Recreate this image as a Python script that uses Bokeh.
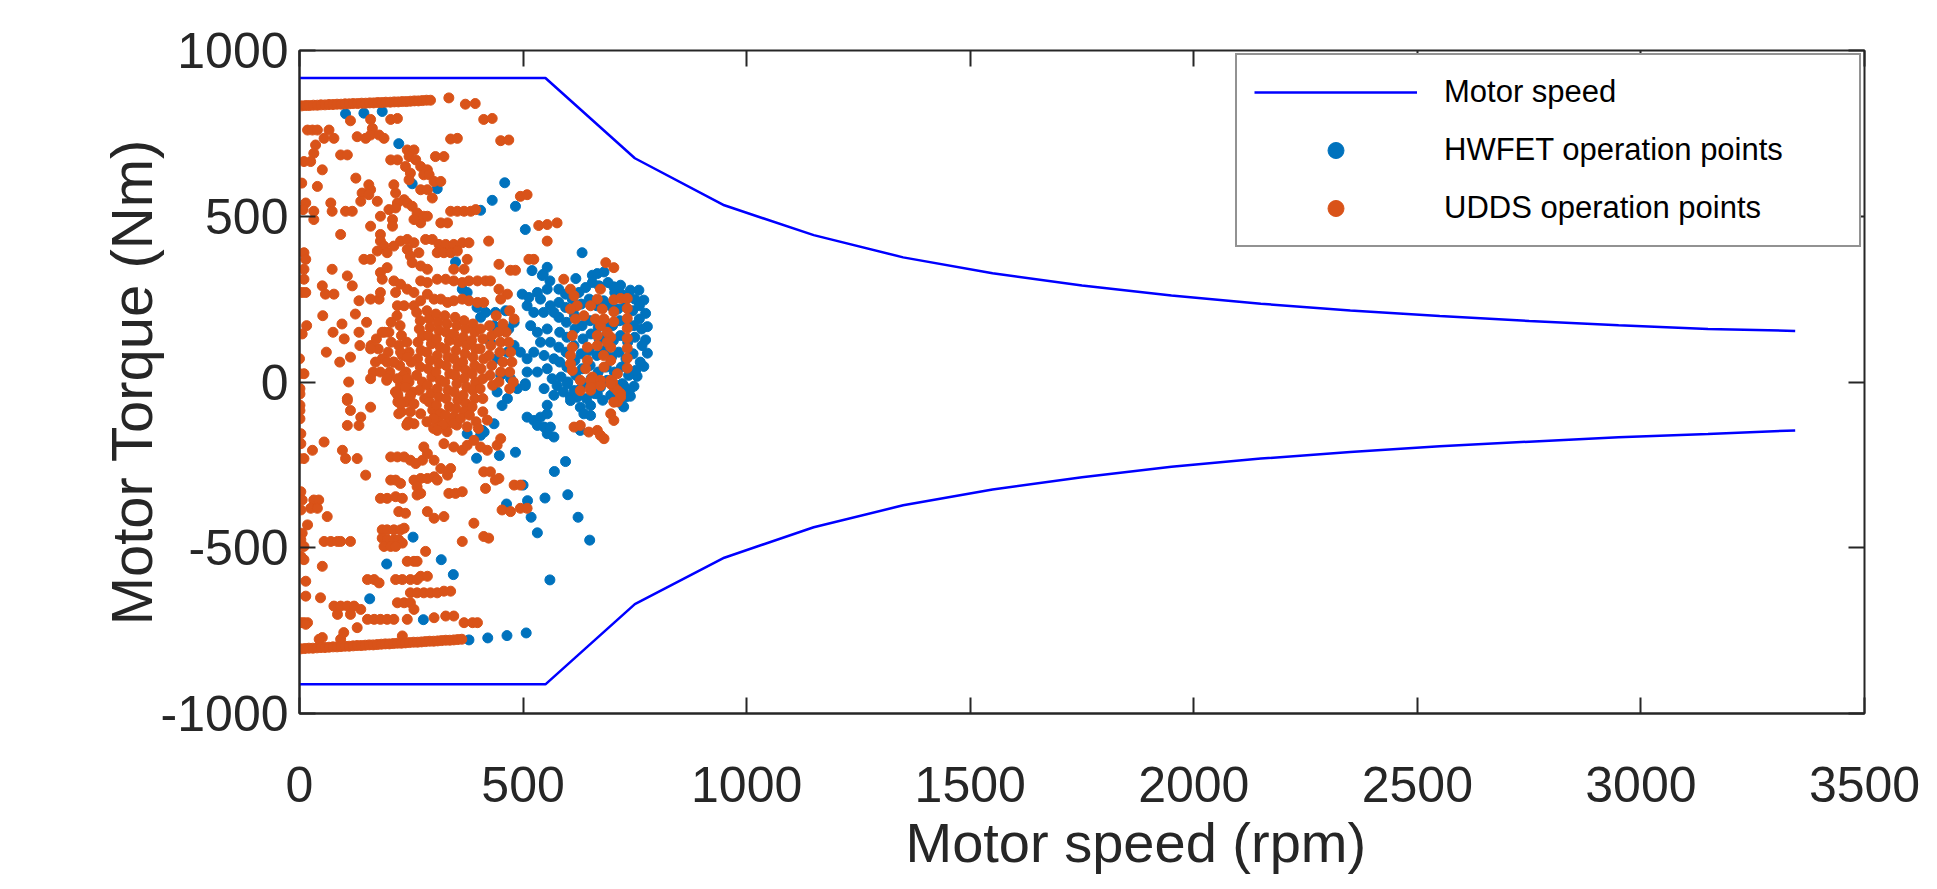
from bokeh.plotting import figure
from bokeh.models import Range1d, LinearAxis, FixedTicker, Legend, LegendItem, Title
from bokeh.embed import file_html
from bokeh.resources import INLINE

# ---------------- data ----------------
x_ticks = [0, 500, 1000, 1500, 2000, 2500, 3000, 3500]
y_ticks = [-1000, -500, 0, 500, 1000]
y_tick_labels = {-1000: "-1000", -500: "-500", 0: "0", 500: "500", 1000: "1000"}

envelope_speed = [0, 550, 750, 950, 1150, 1350, 1550, 1750, 1950, 2150, 2350, 2550, 2750, 2950, 3150, 3345]
envelope_torque_upper = [917, 917, 675, 533, 443, 376, 328, 291, 261, 236, 216, 199, 184, 171, 160, 154]
envelope_torque_lower = [-912, -912, -670, -530, -438, -372, -324, -287, -256, -231, -211, -194, -180, -167, -157, -146]

hwfet_points = [
    (103, 809), (144, 811), (185, 816), (222, 719), (252, 598), (308, 583), (405, 518), (431, 548),
    (459, 601), (483, 530), (505, 460), (632, 390), (349, 362), (520, 336), (543, 321), (554, 346),
    (545, 325), (560, 305),
    (364, 280), (375, 270), (397, 225), (416, 210), (405, 195), (435, 170), (427, 120), (442, 70),
    (450, 20), (465, -50), (442, -30),
    (438, 210), (461, 215), (480, 180), (468, 160), (442, 160), (480, 110), (465, 90), (494, 90),
    (509, 70), (472, 10), (487, -20), (509, 30), (505, -5),
    (498, 265), (513, 255), (532, 270), (539, 250), (554, 280), (561, 230), (509, 230), (524, 210),
    (546, 210), (569, 210), (517, 170), (532, 150), (554, 160), (539, 120), (561, 120), (524, 90),
    (547, 80), (569, 70), (554, 40), (532, 30), (565, 10), (547, -20), (569, -40), (554, -70),
    (618, 312), (655, 322), (666, 327), (681, 332), (703, 287), (718, 292), (740, 277), (759, 277),
    (770, 247), (774, 207), (778, 167), (774, 127), (778, 87), (770, 47), (755, 17), (748, -13),
    (740, -43), (725, -75),
    (580, 280), (595, 265), (610, 250), (625, 270), (640, 285), (655, 300), (670, 290), (690, 300),
    (705, 270), (720, 265), (735, 255), (750, 250), (760, 230),
    (580, 240), (595, 225), (612, 215), (630, 235), (648, 250), (665, 230), (680, 245), (695, 230),
    (712, 220), (728, 228), (745, 215), (760, 190),
    (580, 195), (597, 180), (615, 200), (632, 170), (650, 185), (668, 165), (684, 180), (700, 170),
    (716, 185), (732, 180), (748, 170), (765, 160),
    (582, 150), (598, 135), (616, 160), (634, 130), (652, 145), (670, 130), (686, 140), (702, 125),
    (718, 140), (734, 120), (750, 135), (766, 110),
    (580, 105), (596, 90), (614, 110), (630, 85), (648, 95), (665, 80), (682, 95), (698, 75),
    (714, 90), (730, 70), (746, 85), (762, 60),
    (582, 60), (598, 45), (616, 65), (632, 40), (650, 50), (668, 30), (686, 45), (704, 30),
    (720, 45), (736, 20), (752, 35),
    (585, 15), (600, 0), (618, 20), (635, -5), (652, 10), (670, -10), (688, 5), (706, -20),
    (722, -5), (738, -25),
    (590, -30), (606, -45), (624, -25), (642, -50), (660, -35), (678, -55), (696, -40), (714, -60),
    (730, -45),
    (509, -106), (524, -116), (539, -106), (554, -96), (532, -131), (547, -136), (561, -136),
    (569, -166), (554, -156), (576, -11), (599, -6), (614, -26), (621, -46), (628, -76), (636, -96),
    (651, -71), (666, -36), (673, -16), (703, -6), (725, -11), (606, -56), (628, -146), (651, -101),
    (435, -126), (413, -151), (405, -161), (453, -71), (505, -11), (375, -156), (409, -146),
    (379, -778), (421, -772), (464, -765), (507, -757), (560, -597), (649, -477), (623, -408),
    (600, -340), (549, -350), (532, -455), (518, -408), (510, -358), (500, -311), (463, -368),
    (483, -212), (447, -222), (396, -230), (570, -270), (595, -240), (344, -581), (317, -536),
    (254, -468), (195, -549), (157, -654), (277, -717),
]

udds_points = [
    # upper streak
    (5, 833), (14, 834), (22, 834), (31, 835), (40, 835), (48, 836), (57, 836), (66, 837), (75, 837),
    (84, 838), (93, 838), (102, 839), (111, 839), (120, 840), (130, 840), (139, 841), (148, 841),
    (157, 842), (166, 842), (175, 843), (184, 843), (193, 844), (203, 844), (212, 845), (221, 845),
    (230, 846), (239, 846), (248, 847), (257, 848), (266, 848), (275, 849), (284, 850), (293, 850),
    (334, 857), (371, 838), (393, 840), (412, 792), (431, 795), (450, 728), (468, 730), (338, 733),
    (353, 735),
    # upper scatter
    (114, 788), (159, 792), (163, 765), (204, 792), (219, 795),
    (18, 760), (29, 760), (40, 760), (66, 760), (77, 735), (55, 735),
    (129, 740), (148, 735), (159, 745), (178, 745), (189, 735),
    (36, 715), (32, 690), (10, 665), (25, 665), (51, 640), (40, 590),
    (92, 685), (107, 685),
    (126, 615), (155, 595), (140, 570), (137, 545), (159, 580), (174, 545), (155, 565),
    (204, 670), (219, 670),
    (241, 700), (256, 700), (245, 680), (260, 670), (271, 650), (286, 640), (278, 625), (290, 625),
    (237, 650), (248, 630), (245, 610),
    (304, 680), (323, 680),
    (271, 580), (286, 580), (301, 605), (316, 605), (297, 555),
    (14, 540), (32, 515), (32, 490), (70, 540), (73, 515), (103, 515), (118, 515),
    (211, 595), (215, 570), (219, 540), (234, 550), (241, 540), (252, 530), (263, 510), (271, 480),
    (256, 490), (278, 500), (286, 500),
    (200, 520), (215, 525), (208, 490),
    (181, 500), (159, 470), (181, 445), (208, 470),
    (338, 515), (353, 515), (368, 515), (383, 515), (394, 520),
    (316, 480), (331, 480),
    (92, 445),
    (181, 425), (189, 410), (174, 395), (196, 390), (211, 410), (226, 425), (241, 430), (256, 420),
    (241, 400), (248, 380), (267, 390), (252, 360), (271, 350), (286, 340),
    (282, 430), (297, 430), (312, 415), (327, 415), (345, 415), (364, 420), (379, 420),
    (308, 390), (323, 390), (338, 390), (353, 395),
    (375, 370), (423, 425),
    (535, 472), (554, 475), (576, 480), (554, 425), (494, 560), (509, 565),
    (144, 370), (159, 370),
    (73, 340), (107, 320), (118, 290),
    (51, 290), (58, 265), (77, 265),
    (133, 245), (159, 250), (178, 250),
    (181, 330), (196, 345), (185, 310), (181, 270),
    (211, 305), (226, 295), (241, 280), (256, 270), (215, 270), (219, 230), (234, 230), (256, 230),
    (271, 245), (286, 265), (301, 250), (316, 250), (331, 240), (345, 245), (364, 250), (379, 245),
    (398, 240), (412, 240),
    (271, 305), (286, 300), (308, 310), (327, 310), (345, 305), (364, 300), (379, 305), (398, 305),
    (416, 305), (427, 305), (446, 280), (465, 265), (450, 250),
    (368, 340), (345, 340), (446, 355), (472, 337), (483, 337), (513, 370), (524, 370),
    (470, 215), (480, 190), (455, 175), (440, 200), (462, 150),
    # right cluster
    (591, 310), (606, 280), (614, 260), (621, 230), (606, 220), (617, 190),
    (685, 360), (703, 345), (673, 280), (666, 250), (651, 230), (636, 200), (677, 220), (662, 190),
    (703, 248), (718, 252), (733, 252), (733, 222), (733, 192), (733, 162), (733, 132), (733, 102),
    (733, 72), (733, 42), (703, 212), (703, 182), (696, 135), (696, 105), (696, 65), (711, 25),
    (703, -15), (718, -35), (711, -60),
    (610, 140), (610, 105), (606, 80), (606, 55), (610, 35),
    (644, 105), (644, 65), (640, 40), (655, 15), (662, -5), (651, -25),
    (628, 5), (651, 5), (673, 5), (696, 5),
    (666, 110), (666, 140), (673, 170), (681, 190), (688, 150), (688, 120), (680, 80), (681, 45),
    (700, 0),
    (628, -26), (651, -16), (673, -11), (696, -6), (711, -26), (718, -46), (703, -61), (696, -96),
    (703, -116), (614, -136), (628, -131), (647, -151), (666, -146), (673, -161), (681, -171),
    # dense block
    (262, 210), (270, 185), (268, 160), (275, 140), (265, 120), (272, 95), (264, 70), (270, 45),
    (262, 20), (275, 0), (268, -25), (280, -50),
    (285, 215), (290, 190), (292, 165), (288, 140), (295, 115), (285, 90), (292, 65), (288, 40),
    (296, 15), (286, -10), (294, -35), (290, -60), (298, -85),
    (305, 205), (310, 180), (312, 155), (306, 130), (315, 105), (308, 80), (312, 55), (305, 30),
    (315, 5), (308, -20), (312, -45), (306, -70), (315, -95), (310, -120),
    (325, 200), (330, 175), (328, 150), (335, 125), (326, 100), (332, 75), (328, 50), (336, 25),
    (325, 0), (332, -25), (328, -50), (335, -75), (326, -100), (332, -125), (330, -150),
    (348, 195), (352, 170), (345, 145), (355, 120), (350, 95), (346, 70), (354, 45), (348, 20),
    (352, -5), (346, -30), (354, -55), (350, -80), (345, -105), (352, -130),
    (368, 185), (372, 160), (366, 135), (374, 110), (370, 85), (365, 60), (372, 35), (368, 10),
    (374, -15), (366, -40), (372, -65), (368, -90),
    (388, 175), (392, 150), (385, 125), (394, 100), (388, 75), (392, 50), (386, 25), (394, 0),
    (388, -25), (392, -50), (386, -75),
    (405, 160), (410, 130), (404, 100), (412, 70), (406, 40), (410, 10), (404, -20), (410, -50),
    (425, 170), (430, 140), (428, 110), (424, 80), (430, 50), (426, 20), (432, -10),
    (445, 150), (450, 120), (448, 90), (455, 60), (450, 30), (446, 0),
    (468, 120), (472, 90), (475, 60), (470, 30), (478, 0), (470, -20),
    (240, 120), (245, 90), (250, 60), (238, 30), (245, 0), (252, -30), (240, -60), (248, -90),
    (244, -120),
    (218, 200), (225, 170), (228, 140), (222, 110), (230, 80), (224, 50), (232, 20), (226, -10),
    (220, -40),
    (200, 150), (205, 120), (198, 90), (210, 60), (202, 30), (195, 5), (185, 70), (176, 100),
    (170, 60), (165, 30), (160, 110), (172, 130), (190, 150), (205, 180),
    (114, 75), (110, 0), (107, -50), (133, 150),
    (200, 20), (215, -30), (220, -60), (228, -90), (240, -130),
    (185, 150), (159, 100), (196, 60), (211, 60), (226, 90), (241, 75), (181, 30), (159, 10),
    (196, 10), (219, 10), (241, 10), (215, -30), (234, -60),
    (52, 200), (95, 175), (125, 205), (150, 180), (135, 110), (100, 130), (75, 150), (60, 90),
    (90, 60),
    (300, -110), (320, -130), (345, -125), (360, -110), (380, -100), (395, -120), (410, -90),
    (420, -115), (300, -140), (285, -120), (375, -135), (400, -140),
    (308, -146), (323, -186), (345, -196), (364, -206), (375, -191), (390, -176), (405, -196),
    (420, -206), (442, -191), (450, -171),
    (219, -36), (226, -66), (222, -96), (241, -126), (256, -126), (271, -96), (256, -66),
    (248, -41), (237, -16),
    # left edge column
    (5, 600), (8, 520), (10, 390), (14, 370), (10, 340), (10, 310), (6, 270), (14, 270), (16, 170),
    (6, 145), (0, 70), (0, 25), (10, 25), (1, -20), (1, -70),
    (1, -36), (1, -86), (1, -111), (3, -156), (3, -186), (0, -231), (10, -231), (3, -331),
    (6, -356), (3, -386), (18, -431), (6, -456), (3, -476), (10, -496), (3, -526), (10, -536),
    (14, -601), (10, -726), (18, -726),
    (29, -206), (55, -181), (32, -356), (43, -356), (25, -381), (40, -381), (62, -406),
    (47, -651), (51, -556),
    # negative torque scatter
    (107, -56), (114, -86), (137, -106), (107, -131), (133, -131), (159, -76),
    (96, -206), (103, -231), (129, -231),
    (204, -226), (219, -226), (234, -226), (248, -236), (260, -246), (275, -236),
    (278, -196), (286, -216), (301, -236), (316, -261), (331, -281), (338, -261),
    (148, -281),
    (204, -296), (215, -296), (226, -306), (256, -296), (271, -291), (286, -291), (301, -286),
    (308, -296),
    (181, -351), (196, -351), (215, -346), (230, -351),
    (263, -316), (263, -341), (271, -336),
    (222, -391), (237, -396), (286, -391),
    (301, -411), (323, -406),
    (334, -336), (349, -336), (364, -331),
    (412, -271), (427, -271), (446, -291), (416, -321), (438, -296),
    (480, -311), (494, -311),
    (453, -386), (472, -391), (494, -381), (509, -381),
    (390, -426), (412, -466), (423, -471), (364, -481),
    (185, -446), (196, -446), (211, -446), (226, -446), (234, -441),
    (185, -471), (196, -476), (211, -476), (222, -476), (230, -486),
    (189, -496), (204, -496), (215, -496),
    (241, -541), (256, -541), (263, -541), (282, -511),
    (55, -481), (70, -481), (85, -481), (92, -481), (114, -481),
    (14, -646), (152, -596), (167, -596), (178, -606),
    (215, -596), (230, -596), (248, -596), (263, -596), (271, -586), (286, -586),
    (248, -636), (263, -636), (278, -636), (293, -636), (308, -636), (323, -631), (338, -631),
    (219, -666), (234, -666), (248, -666), (256, -686),
    (77, -676), (92, -676), (107, -676), (122, -676), (137, -686), (85, -701), (114, -701),
    (152, -716), (167, -716), (181, -716), (196, -716), (211, -716), (129, -741),
    (241, -716), (301, -711), (327, -706), (345, -706), (368, -726), (387, -726), (398, -726),
    (3, -726), (14, -731),
    (51, -771), (44, -776), (92, -776), (99, -756), (230, -766),
    # lower streak
    (3, -805), (12, -804), (21, -803), (30, -803), (39, -802), (48, -801), (57, -801), (66, -800),
    (75, -799), (84, -799), (93, -798), (102, -797), (111, -797), (120, -796), (129, -795),
    (138, -795), (147, -794), (156, -793), (165, -793), (174, -792), (183, -791), (192, -790),
    (201, -790), (210, -789), (219, -788), (228, -788), (237, -787), (246, -786), (255, -785),
    (264, -785), (273, -784), (282, -783), (291, -782), (300, -782), (309, -781), (318, -780),
    (327, -779), (336, -779), (345, -778), (354, -777), (363, -776),
]

hwfet_speed = [pt[0] for pt in hwfet_points]
hwfet_torque = [pt[1] for pt in hwfet_points]
udds_speed = [pt[0] for pt in udds_points]
udds_torque = [pt[1] for pt in udds_points]

# ---------------- styling ----------------
FONT = "Liberation Sans"
AX = "#262626"

p = figure(frame_width=1565, frame_height=663,
           x_range=Range1d(0, 3500), y_range=Range1d(-1000, 1000),
           output_backend="svg", toolbar_location=None,
           min_border_left=299, min_border_right=56,
           min_border_top=50, min_border_bottom=0)
p.background_fill_color = "white"
p.border_fill_color = "white"
p.grid.visible = False
p.outline_line_color = AX
p.outline_line_width = 2

xt = FixedTicker(ticks=x_ticks)
yt = FixedTicker(ticks=y_ticks)

def style_axis(ax, ticker):
    ax.ticker = ticker
    ax.axis_line_color = AX
    ax.axis_line_width = 2
    ax.major_tick_line_color = AX
    ax.major_tick_line_width = 2
    ax.major_tick_in = 16
    ax.major_tick_out = 0
    ax.minor_tick_line_color = None
    ax.major_label_text_font = FONT
    ax.major_label_text_font_size = "50px"
    ax.major_label_text_color = AX

style_axis(p.xaxis[0], xt)
style_axis(p.yaxis[0], yt)
p.xaxis[0].major_label_standoff = 53
p.yaxis[0].major_label_standoff = 11
p.yaxis[0].major_label_overrides = y_tick_labels
p.yaxis[0].axis_label = "Motor Torque (Nm)"
p.yaxis[0].axis_label_text_font = FONT
p.yaxis[0].axis_label_text_font_size = "58px"
p.yaxis[0].axis_label_text_font_style = "normal"
p.yaxis[0].axis_label_text_color = AX
p.yaxis[0].axis_label_standoff = -6

# mirrored tick marks on the top and right edges (no labels)
top_ax = LinearAxis()
style_axis(top_ax, xt)
top_ax.major_label_text_font_size = "10px"
top_ax.major_label_text_color = None
top_ax.major_label_standoff = 0
top_ax.axis_line_color = None
p.add_layout(top_ax, "above")

right_ax = LinearAxis()
style_axis(right_ax, yt)
right_ax.major_label_text_font_size = "10px"
right_ax.major_label_text_color = None
right_ax.major_label_standoff = 0
right_ax.axis_line_color = None
p.add_layout(right_ax, "right")

# x-axis label (sits right of centre in the reference)
p.add_layout(Title(text="Motor speed (rpm)", align="left", offset=606,
                   text_font=FONT, text_font_size="56px", text_font_style="normal",
                   text_color=AX, standoff=8), "below")

# ---------------- glyphs ----------------
env_up = p.line(envelope_speed, envelope_torque_upper, line_color="#0000FF", line_width=2.5)
env_lo = p.line(envelope_speed, envelope_torque_lower, line_color="#0000FF", line_width=2.5)
hw = p.scatter(hwfet_speed, hwfet_torque, marker="circle", size=10,
               fill_color="#0072BD", line_color="#0072BD")
ud = p.scatter(udds_speed, udds_torque, marker="circle", size=10,
               fill_color="#D95319", line_color="#D95319")

legend = Legend(items=[
    LegendItem(label="Motor speed", renderers=[env_up]),
    LegendItem(label="HWFET operation points", renderers=[hw]),
    LegendItem(label="UDDS operation points", renderers=[ud]),
], location="top_right", margin=3, padding=17, spacing=18,
    glyph_width=163, glyph_height=40, label_height=40, label_width=398,
    label_standoff=27, label_text_font=FONT, label_text_font_size="31px",
    label_text_color="#000000", border_line_color=AX, border_line_width=2,
    background_fill_color="white", background_fill_alpha=1.0)
p.add_layout(legend)

open("out.html", "w").write(file_html(p, INLINE))
